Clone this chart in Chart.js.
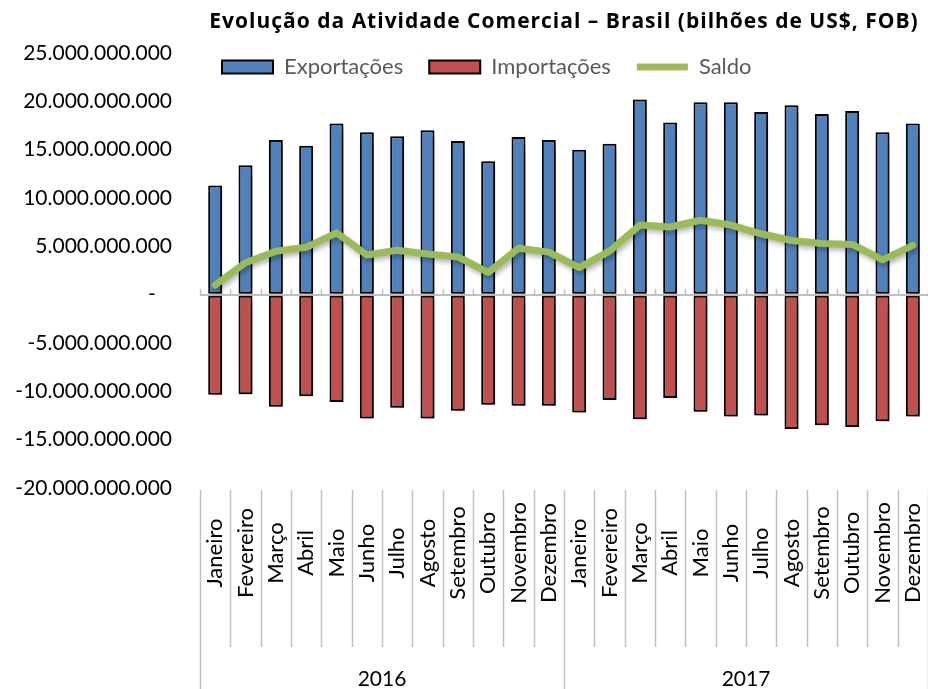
<!DOCTYPE html>
<html lang="pt-BR">
<head>
<meta charset="utf-8">
<script src="https://cdn.jsdelivr.net/npm/chart.js@4.4.1/dist/chart.umd.min.js"></script>
<style>
  html, body { margin: 0; padding: 0; background: #fff; }
  #wrap { width: 928px; height: 689px; }
</style>
</head>
<body>
<div id="wrap"><canvas id="grafico"></canvas></div>
<script>
// valores em bilhões de US$
var meses = ['Janeiro', 'Fevereiro', 'Março', 'Abril', 'Maio', 'Junho', 'Julho', 'Agosto', 'Setembro', 'Outubro', 'Novembro', 'Dezembro'];
var anos = ['2016', '2017'];
var exportacoes = [11.3, 13.4, 16.0, 15.4, 17.7, 16.8, 16.4, 17.0, 15.9, 13.8, 16.3, 16.0,
                   15.0, 15.6, 20.2, 17.8, 19.9, 19.9, 18.9, 19.6, 18.7, 19.0, 16.8, 17.7];
var importacoes = [-10.35, -10.3, -11.6, -10.5, -11.1, -12.8, -11.7, -12.8, -12.0, -11.4, -11.5, -11.5,
                   -12.2, -10.9, -12.9, -10.7, -12.1, -12.6, -12.5, -13.9, -13.5, -13.7, -13.1, -12.6];
var saldo = [1.0, 3.3, 4.5, 4.9, 6.4, 4.1, 4.6, 4.2, 3.9, 2.3, 4.8, 4.4,
             2.8, 4.5, 7.2, 7.0, 7.7, 7.2, 6.3, 5.6, 5.3, 5.2, 3.6, 5.1];

var labels = [];
anos.forEach(function (a) { meses.forEach(function (m) { labels.push(m + ' ' + a); }); });
function bi(v) { return v * 1e9; }

function formata(v) {
    if (v === 0) return '-   ';
    var s = String(Math.abs(Math.round(v))).replace(/\B(?=(\d{3})+(?!\d))/g, '.');
    return (v < 0 ? '-' : '') + s;
}

Chart.defaults.font.family = 'Lato';
Chart.defaults.color = '#000';

var sombra = {
    id: 'sombra',
    beforeDatasetDraw: function (chart, args) {
        var ctx = chart.ctx;
        ctx.save();
        var linha = args.meta.type === 'line';
        ctx.shadowColor = linha ? 'rgba(0,0,0,0.3)' : 'rgba(0,0,0,0.55)';
        ctx.shadowBlur = linha ? 5 : 8;
        ctx.shadowOffsetX = linha ? 2 : 4;
        ctx.shadowOffsetY = linha ? 3 : 5;
    },
    afterDatasetDraw: function (chart) { chart.ctx.restore(); }
};

// legenda sobreposta ao topo da área do gráfico; título com espaçamento
var topo = {
    id: 'topo',
    afterInit: function (chart) {
        var lg = chart.legend;
        var fit = lg.fit;
        lg.fit = function () { fit.call(this); this.height = 0; };
        var tb = chart.titleBlock;
        var desenha = tb.draw;
        tb.draw = function () {
            this.ctx.save();
            this.ctx.letterSpacing = '1px';
            desenha.call(this);
            this.ctx.restore();
        };
    },
    afterLayout: function (chart) {
        var lg = chart.legend;
        var o = lg.options.labels;
        lg.top = 67 - o.padding - o.font.size / 2;
        lg.bottom = lg.top + 70;
        lg.height = 70;
        lg.left -= 4;
    }
};

// eixo de categorias em dois níveis (meses / anos)
var eixoCategorias = {
    id: 'eixoCategorias',
    afterDraw: function (chart) {
        var ctx = chart.ctx, x = chart.scales.x, y = chart.scales.y, ca = chart.chartArea;
        var meio = (x.getPixelForValue(1) - x.getPixelForValue(0)) / 2;
        function borda(i) { return i < labels.length ? x.getPixelForValue(i) - meio : x.getPixelForValue(i - 1) + meio; }
        ctx.save();
        ctx.strokeStyle = '#bfbfbf';
        ctx.lineWidth = 1.5;
        var y0 = y.getPixelForValue(0);
        for (var i = 0; i <= labels.length; i++) {
            var bx = Math.round(borda(i)) + 0.5;
            ctx.beginPath();
            ctx.moveTo(bx, ca.bottom + 2);
            ctx.lineTo(bx, i % 12 === 0 ? chart.height : ca.bottom + 159);
            ctx.moveTo(bx, y0 - 6);
            ctx.lineTo(bx, y0);
            ctx.stroke();
        }
        ctx.fillStyle = '#000';
        ctx.font = '22px Lato';
        ctx.textAlign = 'center';
        ctx.textBaseline = 'middle';
        for (var j = 0; j < labels.length; j++) {
            ctx.save();
            ctx.translate(x.getPixelForValue(j), ca.bottom + 65);
            ctx.rotate(-Math.PI / 2);
            ctx.fillText(meses[j % 12], 0, 0);
            ctx.restore();
        }
        ctx.font = '21px Lato';
        for (var k = 0; k < anos.length; k++) {
            ctx.fillText(anos[k], (borda(k * 12) + borda(k * 12 + 12)) / 2, ca.bottom + 191);
        }
        ctx.restore();
    }
};

var ctx = document.getElementById('grafico').getContext('2d');
var grafico = new Chart(ctx, {
    type: 'bar',
    data: {
        labels: labels,
        datasets: [{
            label: 'Exportações',
            data: exportacoes.map(bi),
            backgroundColor: '#4f81bd',
            borderColor: '#000',
            borderWidth: 2,
            borderSkipped: false,
            pointStyle: 'rect',
            stack: 'comercio'
        }, {
            label: 'Importações',
            data: importacoes.map(bi),
            backgroundColor: '#c0504d',
            borderColor: '#000',
            borderWidth: 2,
            borderSkipped: false,
            pointStyle: 'rect',
            stack: 'comercio'
        }, {
            type: 'line',
            label: 'Saldo',
            data: saldo.map(bi),
            borderColor: '#9bbb59',
            backgroundColor: '#9bbb59',
            borderWidth: 7,
            borderCapStyle: 'round',
            borderJoinStyle: 'round',
            pointRadius: 0,
            pointStyle: 'line',
            tension: 0,
            order: -1,
            stack: 'saldo'
        }]
    },
    options: {
        responsive: true,
        maintainAspectRatio: false,
        animation: false,
        layout: { padding: 0 },
        datasets: {
            bar: { categoryPercentage: 1, barPercentage: 0.46 }
        },
        scales: {
            x: {
                stacked: true,
                grid: { display: false },
                border: { display: false },
                ticks: { display: false },
                afterFit: function (s) { s.height = 201; }
            },
            y: {
                stacked: true,
                min: -20e9,
                max: 25e9,
                border: { display: false },
                grid: {
                    drawTicks: false,
                    lineWidth: 2,
                    color: function (c) { return c.tick && c.tick.value === 0 ? '#bfbfbf' : 'rgba(0,0,0,0)'; }
                },
                ticks: {
                    stepSize: 5e9,
                    padding: 28,
                    font: { size: 21 },
                    color: '#000',
                    callback: function (v) { return formata(v); }
                },
                afterFit: function (s) { s.width = 200; }
            }
        },
        plugins: {
            title: {
                display: true,
                fullSize: false,
                text: 'Evolução da Atividade Comercial – Brasil (bilhões de US$, FOB)',
                color: '#000',
                font: { family: 'Open Sans', size: 21, weight: 'bold', lineHeight: 1.2 },
                padding: { top: 9.5, bottom: 18.3 }
            },
            legend: {
                display: true,
                fullSize: false,
                align: 'start',
                labels: {
                    usePointStyle: true,
                    pointStyleWidth: 51,
                    boxHeight: 13,
                    padding: 26,
                    color: '#595959',
                    font: { size: 22 },
                    sort: function (a, b) { return a.datasetIndex - b.datasetIndex; }
                }
            },
            tooltip: { enabled: false }
        }
    },
    plugins: [sombra, topo, eixoCategorias]
});
</script>
</body>
</html>
